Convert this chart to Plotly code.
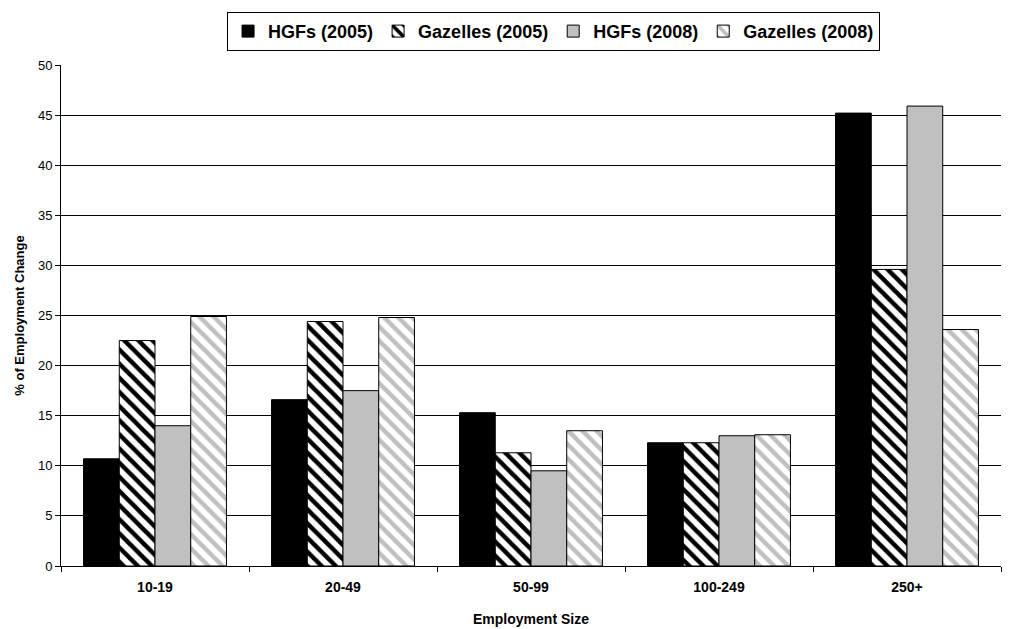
import plotly.graph_objects as go

categories = ["10-19", "20-49", "50-99", "100-249", "250+"]
hgf_2005 = [10.7, 16.6, 15.3, 12.3, 45.2]
gaz_2005 = [22.5, 24.4, 11.3, 12.3, 29.6]
hgf_2008 = [14.0, 17.5, 9.5, 13.0, 45.9]
gaz_2008 = [24.9, 24.8, 13.5, 13.1, 23.6]

y_ticks = [0, 5, 10, 15, 20, 25, 30, 35, 40, 45, 50]

FONT = "Liberation Sans, Arial, sans-serif"

fig = go.Figure()
fig.add_trace(go.Bar(
    name="HGFs (2005)", x=categories, y=hgf_2005,
    marker=dict(color="#000000", line=dict(color="#000000", width=1)),
))
fig.add_trace(go.Bar(
    name="Gazelles (2005)", x=categories, y=gaz_2005,
    marker=dict(color="#ffffff", line=dict(color="#000000", width=1),
                pattern=dict(shape="\\", fgcolor="#000000", bgcolor="#ffffff",
                             size=10, solidity=0.45, fgopacity=1, fillmode="overlay")),
))
fig.add_trace(go.Bar(
    name="HGFs (2008)", x=categories, y=hgf_2008,
    marker=dict(color="#c0c0c0", line=dict(color="#000000", width=1)),
))
fig.add_trace(go.Bar(
    name="Gazelles (2008)", x=categories, y=gaz_2008,
    marker=dict(color="#ffffff", line=dict(color="#000000", width=1),
                pattern=dict(shape="\\", fgcolor="#c0c0c0", bgcolor="#ffffff",
                             size=10, solidity=0.45, fgopacity=1, fillmode="overlay")),
))

fig.update_layout(
    width=1023, height=629,
    margin=dict(l=61, r=22, t=65, b=63),
    paper_bgcolor="white", plot_bgcolor="white",
    barmode="group", bargap=0.24, bargroupgap=0,
    font=dict(family=FONT, size=13, color="black"),
    legend=dict(
        orientation="h", x=0.524, xanchor="center", y=1.106, yanchor="top",
        bordercolor="black", borderwidth=1,
        font=dict(family=FONT, size=18, color="black", weight="bold"),
        itemwidth=30, tracegroupgap=0,
    ),
    xaxis=dict(
        title=dict(text="<b>Employment Size</b>", font=dict(size=14), standoff=20),
        showline=True, linecolor="black", linewidth=1,
        ticks="outside", tickson="boundaries", ticklen=5, tickcolor="black",
        tickfont=dict(size=14, weight="bold"),
        ticklabelstandoff=8,
        showgrid=False, automargin=False,
    ),
    yaxis=dict(
        title=dict(text="<b>% of Employment Change</b>", font=dict(size=13), standoff=10),
        range=[0, 50], tickvals=y_ticks,
        showline=True, linecolor="black", linewidth=1,
        ticks="outside", ticklen=5, tickcolor="black",
        showgrid=True, gridcolor="black", gridwidth=1,
        tickfont=dict(size=13),
        zeroline=False, automargin=False,
    ),
)

fig.write_html("out.html")
